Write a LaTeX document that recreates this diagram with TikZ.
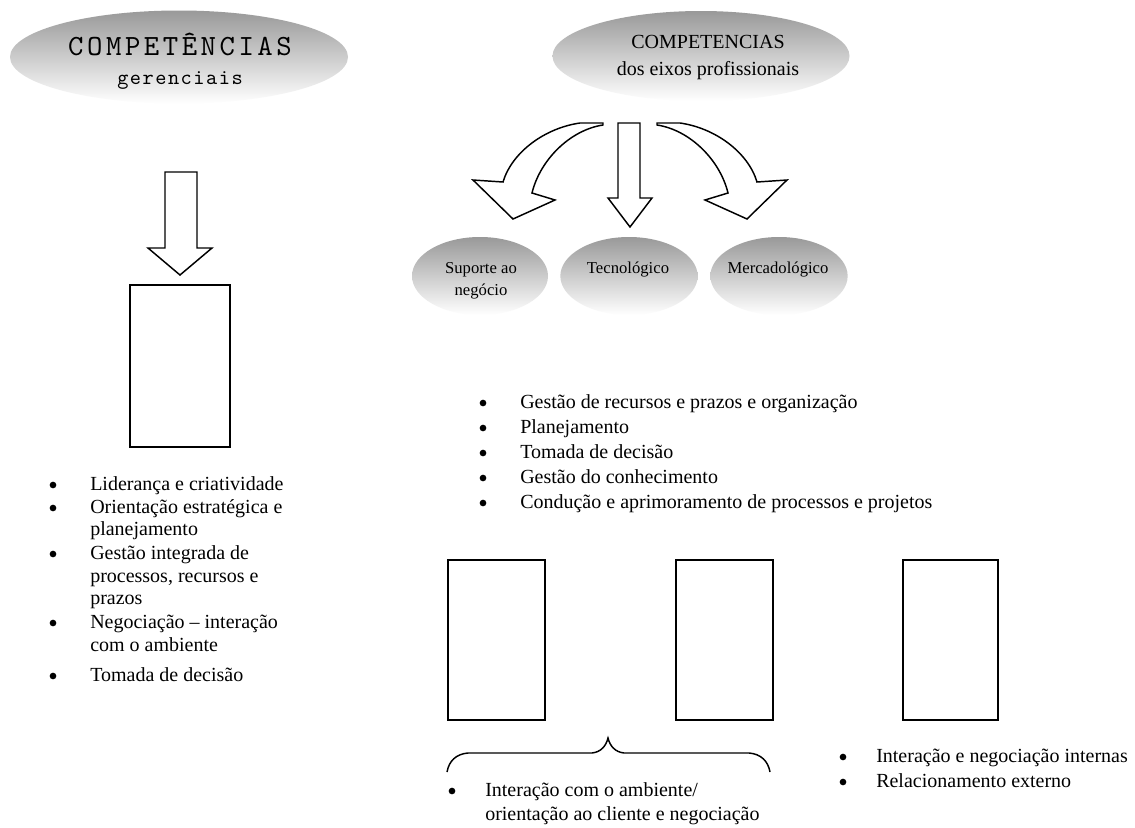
\documentclass[tikz,border=0pt]{standalone}
\usepackage{fontspec}
\setmainfont{Liberation Serif}
\newfontfamily\headttA[LetterSpace=12]{lmmono10-regular.otf}
\newfontfamily\headttB[LetterSpace=7]{lmmono10-regular.otf}
\usetikzlibrary{shapes.geometric}
\begin{document}
\begin{tikzpicture}[x=0.75pt,y=-0.75pt,
  oval/.style={ellipse, inner sep=0, top color=black!40, bottom color=white, draw=none},
  box/.style={draw, line width=1.1pt, inner sep=0},
  blockarrow/.style={draw, line width=1.1pt, fill=white, line join=miter},
  brace/.style={draw, line width=1.1pt},
  body/.style={inner sep=0, font=\fontsize{15}{17}\selectfont},
  itemtxt/.style={body, anchor=base west},
  dot/.style={circle, fill=black, inner sep=0, minimum size=5pt},
  small/.style={inner sep=0, anchor=base, font=\fontsize{12.5}{14}\selectfont},
  head/.style={inner sep=0, anchor=base, font=\fontsize{15}{17}\selectfont}]
\useasboundingbox[fill=white] (0,0) rectangle (1135,828);

% ---------- left column ----------
\node[oval, minimum width=253.5pt, minimum height=69.75pt] (cg) at (179,57) {};
\node[anchor=base, inner sep=0, font=\headttA\fontsize{22}{22}\selectfont] (cgt1) at (180,55) {COMPETÊNCIAS};
\node[anchor=base, inner sep=0, font=\headttB\fontsize{16}{16}\selectfont] (cgt2) at (180,84) {gerenciais};

\node[box, minimum width=75pt, minimum height=121.5pt] (lbox) at (180,366) {};
\coordinate (la) at (180,172);
\draw[blockarrow] ([xshift=-11.25pt]la) -- ([xshift=12.75pt]la) -- (197,248) -- (212,248) -- (lbox.north |- 0,275) -- (148,248) -- (165,248) -- cycle;

\node[dot] (l1b) at (53,485) {}; \node[itemtxt] (l1) at (90,490) {Liderança e criatividade};
\node[dot] (l2b) at (53,508) {}; \node[itemtxt] (l2) at (90,513) {Orientação estratégica e};
\node[itemtxt] (l2c) at (90,535) {planejamento};
\node[dot] (l3b) at (53,554) {}; \node[itemtxt] (l3) at (90,559) {Gestão integrada de};
\node[itemtxt] (l3c) at (90,582) {processos, recursos e};
\node[itemtxt] (l3d) at (90,604) {prazos};
\node[dot] (l4b) at (53,623) {}; \node[itemtxt] (l4) at (90,628) {Negociação – interação};
\node[itemtxt] (l4c) at (90,651) {com o ambiente};
\node[dot] (l5b) at (53,676) {}; \node[itemtxt] (l5) at (90,681) {Tomada de decisão};

% ---------- right column ----------
\node[oval, minimum width=222.75pt, minimum height=67.5pt] (ce) at (701,56) {};
\node[head] (cet1) at (708,48) {COMPETENCIAS};
\node[head] (cet2) at (708,75) {dos eixos profissionais};

% straight arrow
\draw[blockarrow] (618,123) -- (640,123) -- (640,198) -- (652,198) -- (630,227) -- (608,198) -- (618,198) -- cycle;
% curved arrow left
\draw[blockarrow] (603,123) -- (580,123)
  .. controls (545,128) and (512,152) .. (503,182)
  -- (473,180) -- (513,219) -- (555,200) -- (532,193)
  .. controls (540,160) and (570,130) .. (603,125) -- cycle;
% curved arrow right
\draw[blockarrow] (657,123) -- (680,123)
  .. controls (715,128) and (748,152) .. (757,182)
  -- (787,180) -- (747,219) -- (705,200) -- (728,193)
  .. controls (720,160) and (690,130) .. (657,125) -- cycle;

\node[oval, minimum width=102pt, minimum height=58.5pt] (sup) at (480,276) {};
\node[oval, minimum width=103pt, minimum height=58.5pt] (tec) at (629,276) {};
\node[oval, minimum width=103pt, minimum height=58.5pt] (mer) at (779,276) {};
\node[small] (supt1) at (481,273) {Suporte ao};
\node[small] (supt2) at (481,295) {negócio};
\node[small] (tect) at (628,273) {Tecnológico};
\node[small] (mert) at (778,273) {Mercadológico};

\node[dot] (m1b) at (483,403) {}; \node[itemtxt] (m1) at (520,408) {Gestão de recursos e prazos e organização};
\node[dot] (m2b) at (483,428) {}; \node[itemtxt] (m2) at (520,433) {Planejamento};
\node[dot] (m3b) at (483,453) {}; \node[itemtxt] (m3) at (520,458) {Tomada de decisão};
\node[dot] (m4b) at (483,478) {}; \node[itemtxt] (m4) at (520,483) {Gestão do conhecimento};
\node[dot] (m5b) at (483,503) {}; \node[itemtxt] (m5) at (520,508) {Condução e aprimoramento de processos e projetos};

\node[box, minimum width=72.75pt, minimum height=120pt] (r1) at (496.5,640) {};
\node[box, minimum width=72.75pt, minimum height=120pt] (r2) at (724.5,640) {};
\node[box, minimum width=71.25pt, minimum height=120pt] (r3) at (950.5,640) {};

\coordinate (bl) at (447,772);
\coordinate (bt) at (608,738);
\coordinate (br) at (770,772);
\draw[brace] (bl) .. controls (449,761) and (456,754) .. (468,753) -- (592,753)
  .. controls (601,752) and (606,746) .. (bt)
  .. controls (610,746) and (615,752) .. (624,753) -- (749,753)
  .. controls (761,754) and (768,761) .. (br);

\node[dot] (b1b) at (452,791) {}; \node[itemtxt] (b1) at (485,796) {Interação com o ambiente/};
\node[itemtxt] (b1c) at (485,820) {orientação ao cliente e negociação};

\node[dot] (c1b) at (843,757) {}; \node[itemtxt] (c1) at (876,762) {Interação e negociação internas};
\node[dot] (c2b) at (843,782) {}; \node[itemtxt] (c2) at (876,787) {Relacionamento externo};
\end{tikzpicture}
\end{document}
